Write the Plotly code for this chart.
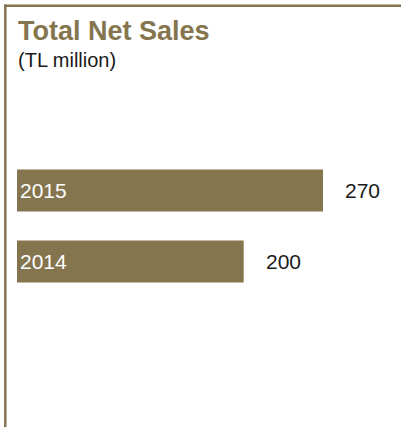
import plotly.graph_objects as go

# Total net sales by year (TL million)
years = ["2014", "2015"]
net_sales = [200, 270]

title_text = "Total Net Sales"
subtitle_text = "(TL million)"

GOLD = "#85754e"
FONT = "Liberation Sans, Arial, Helvetica, sans-serif"

W, H = 401, 427
ML, MR, MT, MB = 17, 0, 155, 130
PW, PH = W - ML - MR, H - MT - MB


def px_to_paper_x(px):
    return (px - ML) / PW


def px_to_paper_y(py):
    return (H - MB - py) / PH


fig = go.Figure()
fig.add_trace(go.Bar(
    x=net_sales,
    y=years,
    orientation="h",
    marker=dict(color=GOLD, line=dict(width=0)),
    text=years,
    textposition="inside",
    insidetextanchor="start",
    textfont=dict(color="white", size=21, family=FONT),
    hoverinfo="skip",
))

# value labels to the right of each bar (category axis -> use category index)
for idx, val in enumerate(net_sales):
    fig.add_annotation(
        x=val, y=idx, xref="x", yref="y",
        text=str(val), showarrow=False,
        xanchor="left", yanchor="middle", xshift=20,
        font=dict(size=21, color="#1a1a1a", family=FONT),
    )

# heading
fig.add_annotation(
    x=px_to_paper_x(16), y=px_to_paper_y(14), xref="paper", yref="paper",
    text=f"<b>{title_text}</b>", showarrow=False,
    xanchor="left", yanchor="top",
    font=dict(size=27, color=GOLD, family=FONT),
)
fig.add_annotation(
    x=px_to_paper_x(16), y=px_to_paper_y(47), xref="paper", yref="paper",
    text=subtitle_text, showarrow=False,
    xanchor="left", yanchor="top",
    font=dict(size=20, color="#1a1a1a", family=FONT),
)

# frame: top and left rules
fig.add_shape(type="line", xref="paper", yref="paper",
              x0=px_to_paper_x(4), x1=px_to_paper_x(W + 2),
              y0=px_to_paper_y(5.8), y1=px_to_paper_y(5.8),
              line=dict(color=GOLD, width=2.5))
fig.add_shape(type="line", xref="paper", yref="paper",
              x0=px_to_paper_x(5.3), x1=px_to_paper_x(5.3),
              y0=px_to_paper_y(4.6), y1=px_to_paper_y(H + 2),
              line=dict(color=GOLD, width=2.5))

fig.update_layout(
    width=W, height=H,
    margin=dict(l=ML, r=MR, t=MT, b=MB, pad=0),
    paper_bgcolor="white", plot_bgcolor="white",
    showlegend=False,
    bargap=0.41,
    xaxis=dict(range=[0, PW / (306 / 270)], visible=False, fixedrange=True),
    yaxis=dict(type="category", categoryorder="array", categoryarray=years,
               range=[-0.5, 1.5], visible=False, fixedrange=True),
)

fig.write_html("out.html", config={"displayModeBar": False})
